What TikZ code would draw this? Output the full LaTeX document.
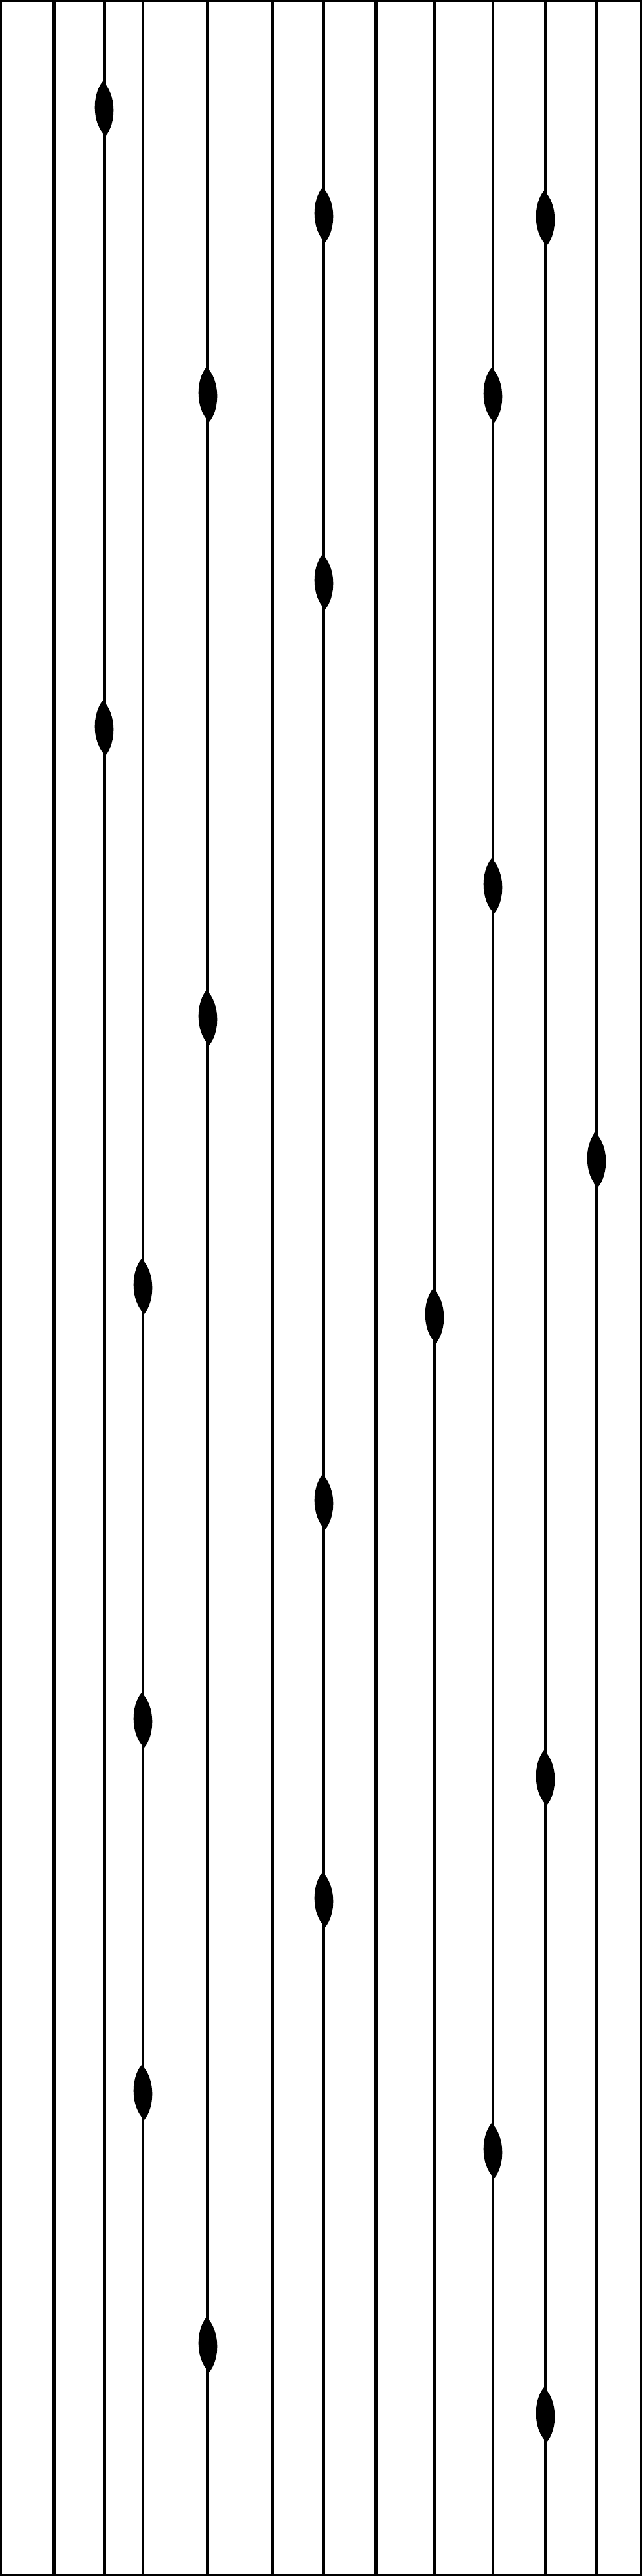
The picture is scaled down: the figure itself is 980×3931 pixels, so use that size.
\documentclass[tikz,border=0pt]{standalone}
\begin{document}
\begin{tikzpicture}[x=1pt, y=-1pt]
        \useasboundingbox (0, 0) rectangle (980, 3931);
        \draw[line width = 3.3pt] (1.6, 1.6) rectangle (978.4, 3929.4);
        \foreach \x/\w in {82/7pt, 159/3.3pt, 218/3.3pt, 317/3.3pt, 416/3.3pt, 494/3.3pt, 574/6.5pt, 663/3.3pt, 752/3.3pt, 832/5pt, 910/3.3pt}
                \draw[line width = \w] (\x, 0) -- (\x, 3931);
        \foreach \x/\y in {159/166, 159/1111, 218/1963, 218/2625, 218/3193, 317/602, 317/1553, 317/3578, 494/328, 494/888, 494/2292, 494/2899, 663/2008, 752/603, 752/1352, 752/3282, 832/333, 832/2713, 832/3685, 910/1770}
                \fill (\x-2, \y-42) .. controls (\x-19, \y-22) and (\x-19, \y+22) .. (\x+2, \y+42) .. controls (\x+19, \y+22) and (\x+19, \y-22) .. cycle;
\end{tikzpicture}
\end{document}
